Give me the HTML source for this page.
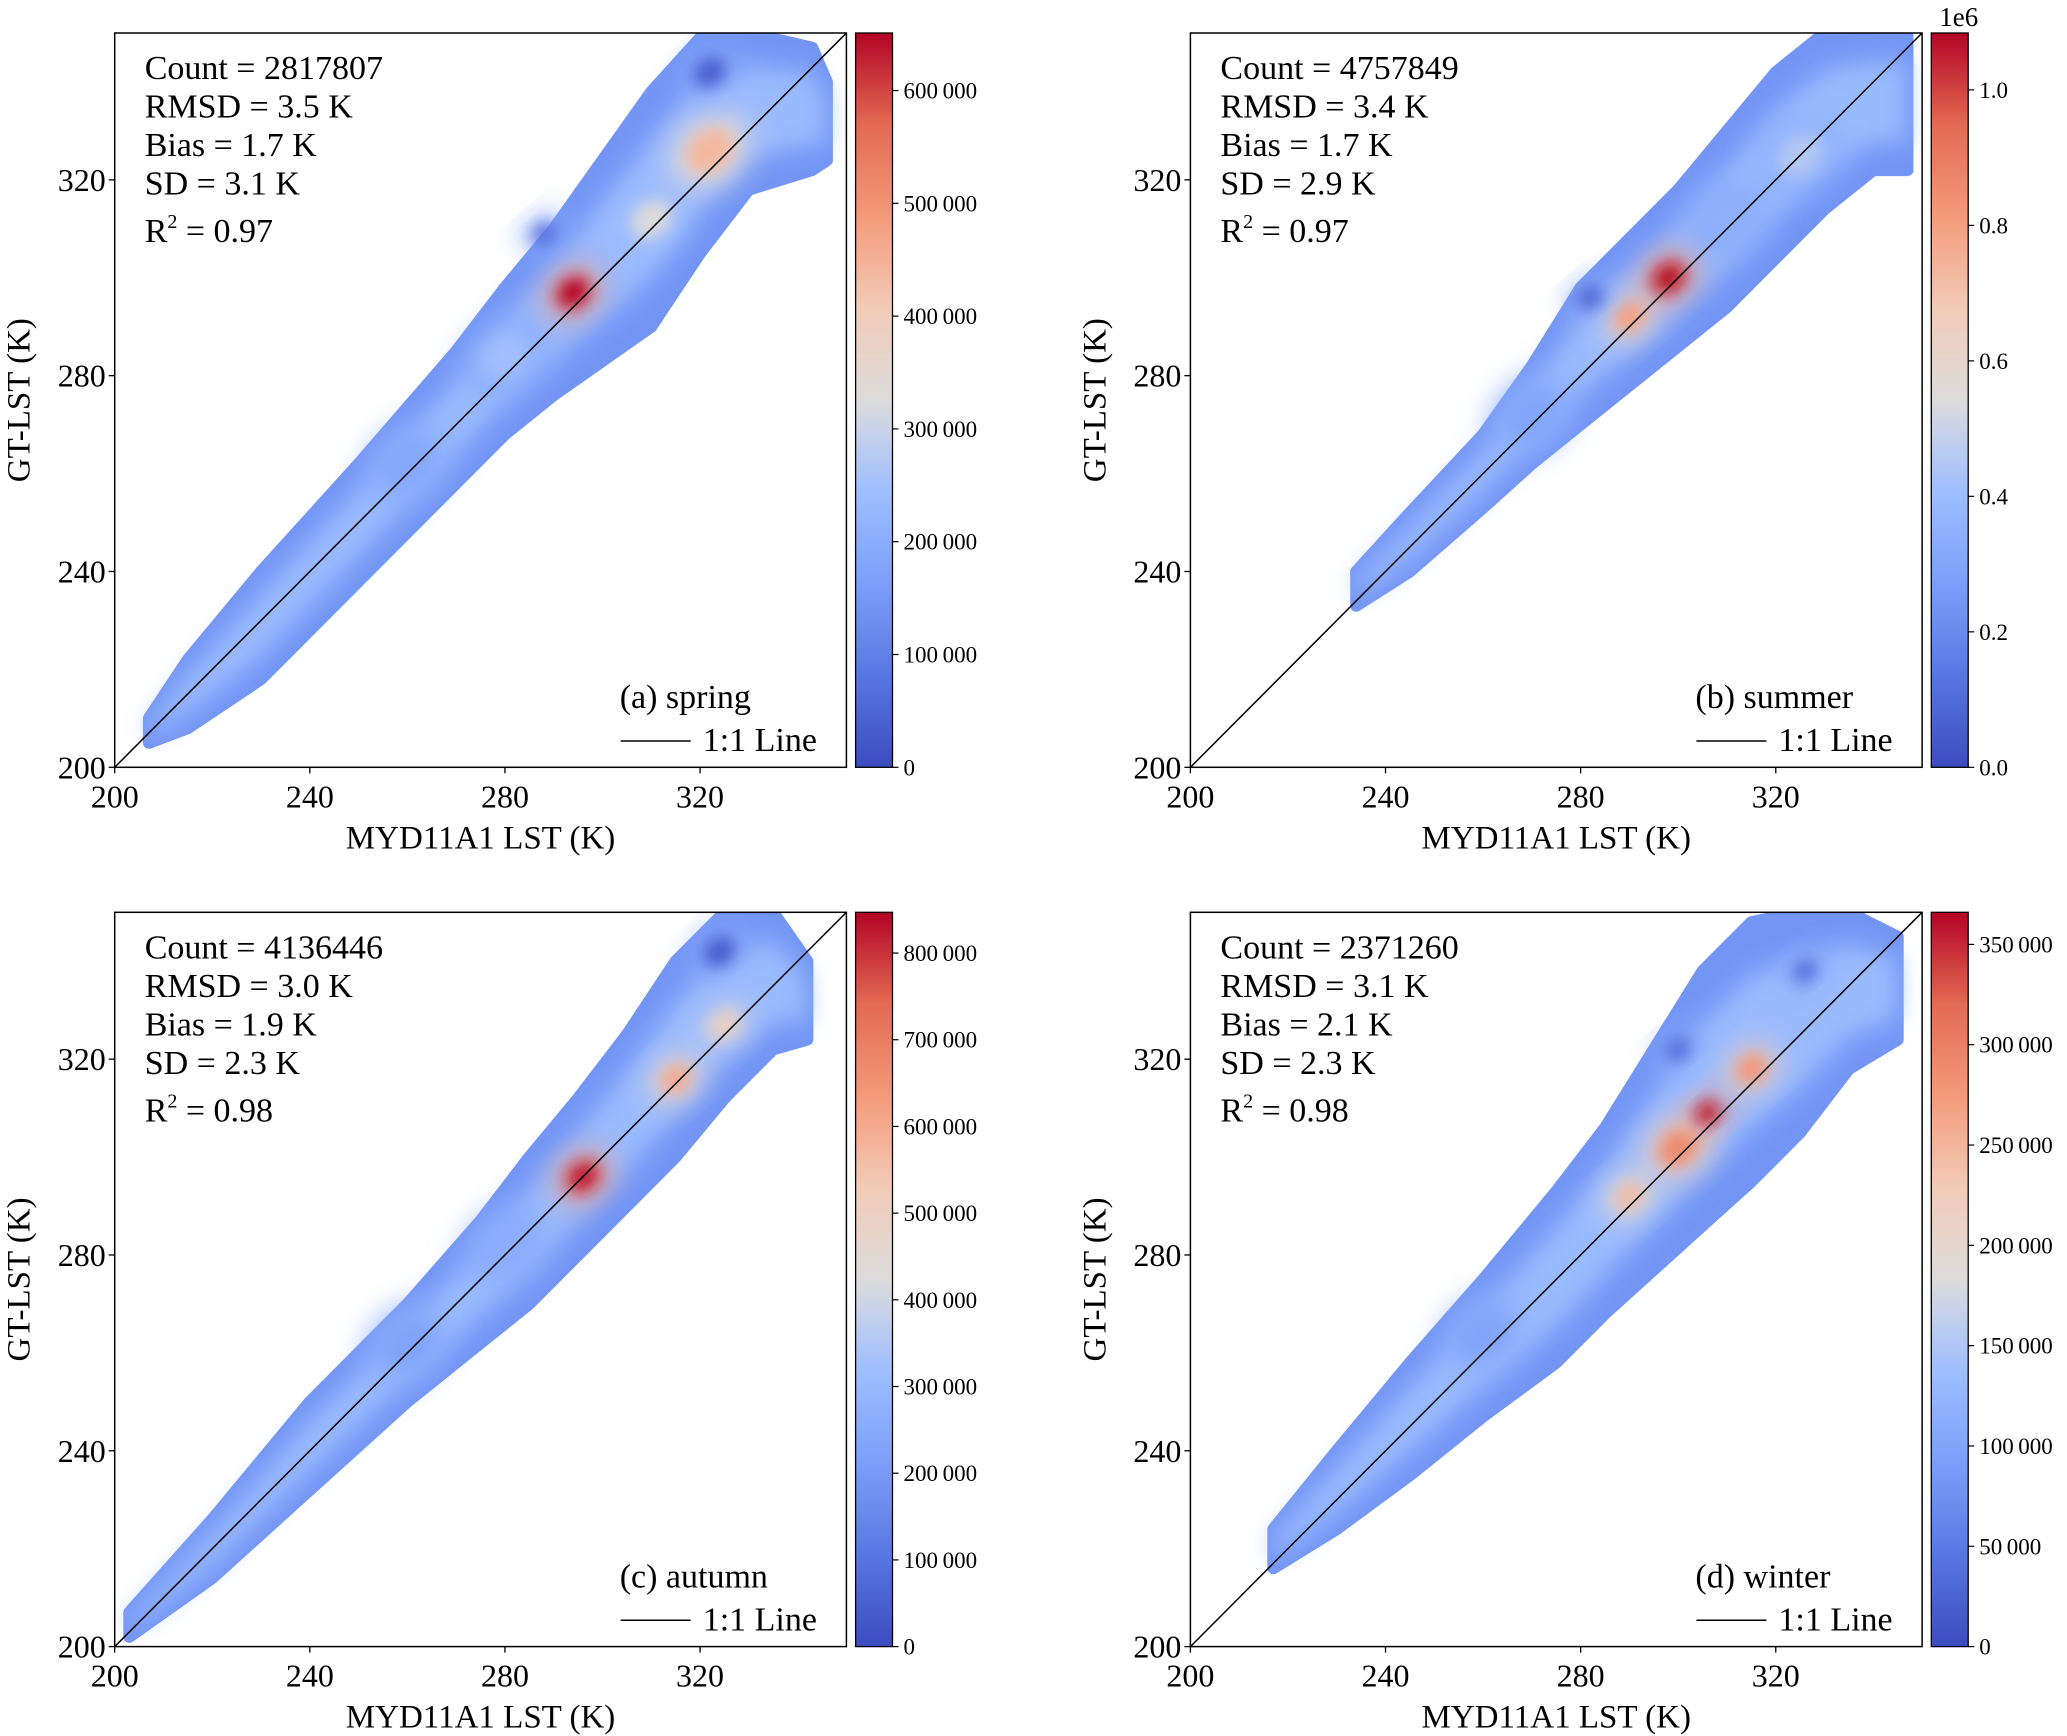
<!DOCTYPE html>
<html><head><meta charset="utf-8">
<style>
body{margin:0;background:#fff;}
svg{display:block;}
svg text{font-family:"Liberation Serif","Times New Roman",serif;}
</style></head>
<body>
<svg id="fig" width="2067" height="1736" viewBox="0 0 2067 1736" xmlns="http://www.w3.org/2000/svg" font-family="Liberation Serif, serif">
<defs>
<linearGradient id="cmap" x1="0" y1="1" x2="0" y2="0">
<stop offset="0" stop-color="#3b4cc0"/><stop offset="0.125" stop-color="#5977e3"/>
<stop offset="0.25" stop-color="#7b9ff9"/><stop offset="0.375" stop-color="#9ebeff"/>
<stop offset="0.5" stop-color="#dddcdc"/><stop offset="0.625" stop-color="#f2cbb7"/>
<stop offset="0.75" stop-color="#f49a7b"/><stop offset="0.875" stop-color="#e36a53"/>
<stop offset="1" stop-color="#b40426"/>
</linearGradient>
<filter id="blur8" x="-50%" y="-50%" width="200%" height="200%"><feGaussianBlur stdDeviation="8"/></filter>
<filter id="blur12" x="-50%" y="-50%" width="200%" height="200%"><feGaussianBlur stdDeviation="12"/></filter>
<filter id="blur16" x="-50%" y="-50%" width="200%" height="200%"><feGaussianBlur stdDeviation="16"/></filter>
</defs>
</svg>
<script>
// ---- data arrays ----
const panelNames = ["spring","summer","autumn","winter"];
const panelLetters = ["(a)","(b)","(c)","(d)"];
const counts = ["2817807","4757849","4136446","2371260"];
const rmsd = ["3.5","3.4","3.0","3.1"];
const bias = ["1.7","1.7","1.9","2.1"];
const sd = ["3.1","2.9","2.3","2.3"];
const r2 = ["0.97","0.97","0.98","0.98"];
const axisTicks = [200,240,280,320];
const cbarMax = [651000,1084000,847000,366000];
const cbarTicksA = [0,100000,200000,300000,400000,500000,600000];
const cbarTicksB = [0,0.2,0.4,0.6,0.8,1.0];
const cbarTicksC = [0,100000,200000,300000,400000,500000,600000,700000,800000];
const cbarTicksD = [0,50000,100000,150000,200000,250000,300000,350000];
// cloud ridge (K)
const ridgeXA=[207,215,230,250,270,280,290,300,310,320,330,343,346];
const ridgeHiA=[210,222,240,262,285,298,310,324,338,349,350,347,340];
const ridgeLoA=[205,208,218,238,258,268,276,283,290,305,318,322,324];
const ridgeXB=[234,245,260,270,280,290,300,310,320,330,340,347];
const ridgeHiB=[240,252,268,282,298,308,318,330,342,350,350,350];
const ridgeLoB=[233,240,253,262,270,278,286,294,304,314,322,322];
const ridgeXC=[203,220,240,260,275,285,295,305,315,325,335,342];
const ridgeHiC=[207,226,250,270,287,300,312,325,340,350,350,340];
const ridgeLoC=[202,214,232,250,262,270,280,290,300,312,322,324];
const ridgeXD=[217,230,245,260,275,285,295,305,315,325,335,345];
const ridgeHiD=[224,240,258,275,293,306,322,338,348,350,350,345];
const ridgeLoD=[216,224,235,247,258,268,277,286,295,305,318,324];
// hotspots: x, y (K), density value, radius (K)
const hotXA=[260,280,310,322,294,322,288]; const hotYA=[262,284,312,326,297,342,309];
const hotVA=[190000,250000,330000,440000,650000,30000,60000]; const hotRA=[6,6,5,6,4,4,3];
const hotXB=[270,310,325,290,298,282]; const hotYB=[272,312,325,292,300,296];
const hotVB=[300000,350000,450000,800000,1080000,60000]; const hotRB=[6,6,6,4,4,3];
const hotXC=[260,280,325,315,296,324]; const hotYC=[262,282,327,316,296,342];
const hotVC=[230000,260000,500000,600000,830000,30000]; const hotRC=[6,6,4,4,4,4];
const hotXD=[260,290,315,300,306,300,326]; const hotYD=[264,292,318,302,309,322,338];
const hotVD=[100000,240000,280000,290000,360000,30000,30000]; const hotRD=[6,4,4,5,3,3,3];

const ridges=[[ridgeXA,ridgeHiA,ridgeLoA],[ridgeXB,ridgeHiB,ridgeLoB],[ridgeXC,ridgeHiC,ridgeLoC],[ridgeXD,ridgeHiD,ridgeLoD]];
const hots=[[hotXA,hotYA,hotVA,hotRA],[hotXB,hotYB,hotVB,hotRB],[hotXC,hotYC,hotVC,hotRC],[hotXD,hotYD,hotVD,hotRD]];
const cbarTicks=[cbarTicksA,cbarTicksB,cbarTicksC,cbarTicksD];

const NS="http://www.w3.org/2000/svg";
const svg=document.getElementById("fig");
const FONT='"Liberation Serif","Times New Roman",serif';
function mk(tag,attrs,parent){const e=document.createElementNS(NS,tag);for(const k in attrs)e.setAttribute(k,attrs[k]);if(tag==="text")e.style.fontFamily=FONT;(parent||svg).appendChild(e);return e;}
const cstops=[[0,[59,76,192]],[0.125,[89,119,227]],[0.25,[123,159,249]],[0.375,[158,190,255]],[0.5,[221,220,220]],[0.625,[242,203,183]],[0.75,[244,154,123]],[0.875,[227,106,83]],[1,[180,4,38]]];
function cmap(t){t=Math.max(0,Math.min(1,t));for(let i=1;i<cstops.length;i++){if(t<=cstops[i][0]){const a=cstops[i-1],b=cstops[i];const f=(t-a[0])/(b[0]-a[0]);const c=a[1].map((v,j)=>Math.round(v+(b[1][j]-v)*f));return `rgb(${c.join(",")})`;}}return "rgb(180,4,38)";}
function fmt(v){if(v>=1000){const s=String(v);return s.slice(0,s.length-3)+"\u2009"+s.slice(-3);}return String(v);}

const offX=[0,1075.7,0,1075.7], offY=[0,0,879.3,879.3];
for(let p=0;p<4;p++){
  const L=114.7+offX[p], R=846.4+offX[p], T=33+offY[p], B=767.3+offY[p];
  const sx=v=>L+(v-200)/150*(R-L), sy=v=>B-(v-200)/150*(B-T);
  const g=mk("g",{});
  
  
  const clipId="clip"+p;
  const cp=mk("clipPath",{id:clipId},g); mk("rect",{x:L,y:T,width:R-L,height:B-T},cp);
  const plot=mk("g",{"clip-path":`url(#${clipId})`},g);
  
  
  const [rx,rh,rl]=ridges[p];
  let pts=[];
  for(let i=0;i<rx.length;i++)pts.push(sx(rx[i])+","+sy(rh[i]));
  for(let i=rx.length-1;i>=0;i--)pts.push(sx(rx[i])+","+sy(rl[i]));
  const band=mk("polygon",{points:pts.join(" "),fill:cmap(0.22),stroke:cmap(0.22),"stroke-width":12,"stroke-linejoin":"round"},plot);
  
  
  let pts2=[];
  for(let i=0;i<rx.length;i++){const m=(rh[i]+rl[i])/2, h=(rh[i]-rl[i])*0.3;pts2.push(sx(rx[i])+","+sy(m+h));}
  for(let i=rx.length-1;i>=0;i--){const m=(rh[i]+rl[i])/2, h=(rh[i]-rl[i])*0.3;pts2.push(sx(rx[i])+","+sy(m-h));}
  const core=mk("polygon",{points:pts2.join(" "),fill:cmap(0.36),filter:"url(#blur12)"},plot);
  
  
  const [hx,hy,hv,hr]=hots[p];
  for(let i=0;i<hx.length;i++){
    const t=hv[i]/cbarMax[p];
    const r=hr[i]/150*(R-L);
    const outer=mk("ellipse",{cx:sx(hx[i]),cy:sy(hy[i]),rx:r*1.5,ry:r*1.1,fill:cmap(Math.max(0.3,t*0.75)),filter:"url(#blur16)",transform:`rotate(-40 ${sx(hx[i])} ${sy(hy[i])})`},plot);
    
    
    const c=mk("ellipse",{cx:sx(hx[i]),cy:sy(hy[i]),rx:r*0.9,ry:r*0.7,fill:cmap(t),filter:"url(#blur8)",transform:`rotate(-40 ${sx(hx[i])} ${sy(hy[i])})`},plot);
    
    
  }
  const line=mk("line",{x1:sx(200),y1:sy(200),x2:sx(350),y2:sy(350),stroke:"#000","stroke-width":1.5},plot);
  
  
  const frame=mk("rect",{x:L,y:T,width:R-L,height:B-T,fill:"none",stroke:"#000","stroke-width":1.5},g);
  
  
  for(const v of axisTicks){
    mk("line",{x1:sx(v),y1:B,x2:sx(v),y2:B+6,stroke:"#000","stroke-width":1.3},g);
    const tx=mk("text",{x:sx(v),y:B+40,"text-anchor":"middle","font-size":32},g);tx.textContent=v;
    
    
    mk("line",{x1:L-6,y1:sy(v),x2:L,y2:sy(v),stroke:"#000","stroke-width":1.3},g);
    const ty=mk("text",{x:L-9,y:sy(v)+11,"text-anchor":"end","font-size":32},g);ty.textContent=v;
    
    
  }
  const xl=mk("text",{x:(L+R)/2,y:B+81,"text-anchor":"middle","font-size":33},g);xl.textContent="MYD11A1 LST (K)";
  
  
  const yl=mk("text",{x:0,y:0,"text-anchor":"middle","font-size":33,transform:`translate(${L-85} ${(T+B)/2}) rotate(-90)`},g);yl.textContent="GT-LST (K)";
  
  
  const lines=["Count = "+counts[p],"RMSD = "+rmsd[p]+" K","Bias = "+bias[p]+" K","SD = "+sd[p]+" K"];
  lines.forEach((s,i)=>{const t=mk("text",{x:L+30,y:T+46+i*38.5,"font-size":34},g);t.textContent=s;
    
    });
  const rt=mk("text",{x:L+30,y:T+46+4*38.5+9,"font-size":34},g);
  rt.innerHTML='R<tspan dy="-14" font-size="20">2</tspan><tspan dy="14"> = '+r2[p]+'</tspan>';
  
  
  const pl=mk("text",{x:L+505,y:T+675,"font-size":34},g);pl.textContent=panelLetters[p]+" "+panelNames[p];
  
  
  const lg=mk("g",{},g);
  
  
  mk("line",{x1:L+506,y1:T+708,x2:L+576,y2:T+708,stroke:"#000","stroke-width":1.5},lg);
  const lt=mk("text",{x:L+588,y:T+718,"font-size":34},lg);lt.textContent="1:1 Line";
  const cL=R+9.2, cR=R+46.1;
  const cb=mk("rect",{x:cL,y:T,width:cR-cL,height:B-T,fill:"url(#cmap)",stroke:"#000","stroke-width":1.3},g);
  
  
  for(const v of cbarTicks[p]){
    const val=p===1?v*1e6:v;
    const y=B-val/cbarMax[p]*(B-T);
    mk("line",{x1:cR,y1:y,x2:cR+6,y2:y,stroke:"#000","stroke-width":1.2},g);
    const t=mk("text",{x:cR+11,y:y+8,"font-size":23},g);
    t.textContent=p===1?v.toFixed(1):fmt(v);
    
    
  }
  if(p===1){const e=mk("text",{x:cL+8,y:T-7,"font-size":27},g);e.textContent="1e6";
    
    }
}
</script>
</body></html>
